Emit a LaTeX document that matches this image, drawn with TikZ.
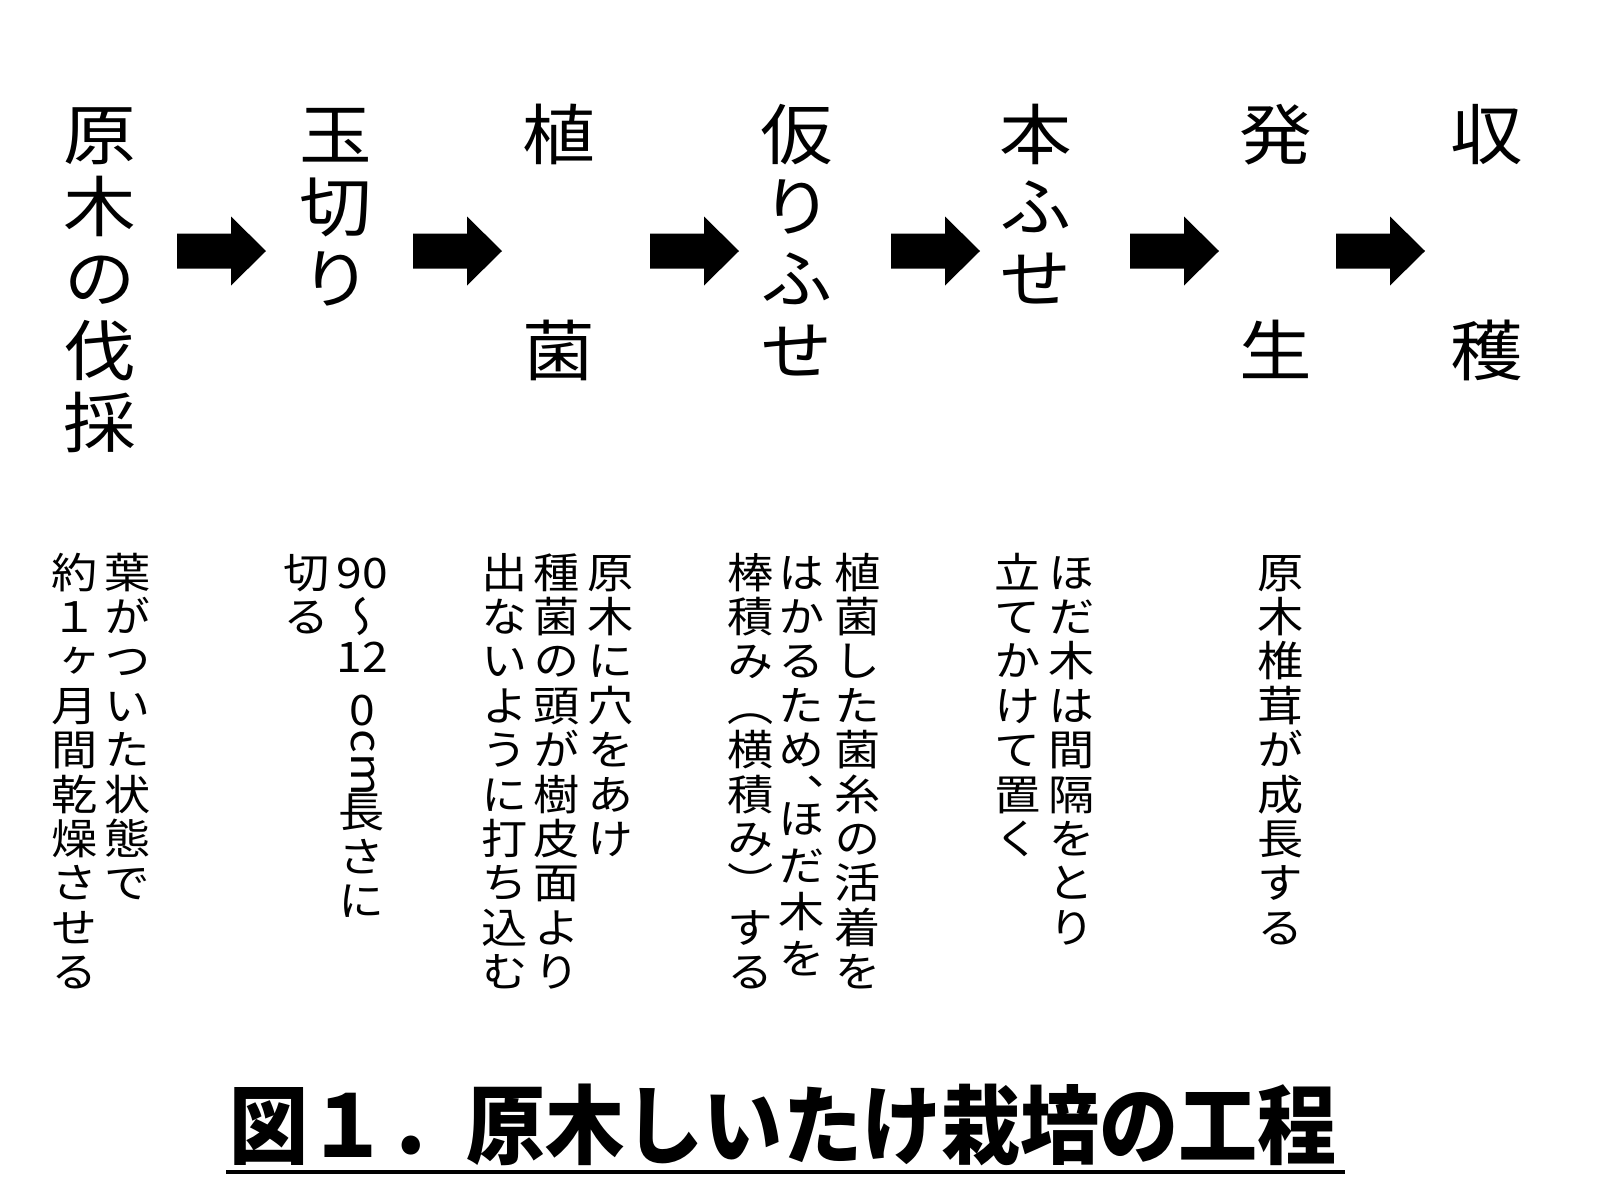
\documentclass[tikz,border=0pt]{standalone}
\usepackage{fontspec}
\newfontfamily\jp[FakeStretch=1.1,RawFeature=+vert]{Noto Sans CJK JP}
\newfontfamily\jptitle[FakeStretch=0.92,BoldFont={Noto Sans CJK JP Black}]{Noto Sans CJK JP}
\newcommand\vcolumn[6]{% name, x, y0, pitch, style, list
  \foreach \vchar [count=\i] in {#6} {\node[#5] (#1-\i) at (#2,{#3+(\i-1)*#4}) {\vchar};}}
\newcommand\vplace[6]{% name, x, y0, pitch, style, list of row/char
  \foreach \vrow/\vchar [count=\i] in {#6} {\node[#5] (#1-\i) at (#2,{#3+\vrow*#4}) {\vchar};}}
\tikzset{
  ttl/.style={font=\jp\fontsize{66}{66}\selectfont, inner sep=0pt, text height=58pt, text depth=8pt},
  dsc/.style={font=\jp\fontsize{42}{42}\selectfont, inner sep=0pt, text height=37pt, text depth=5pt},
  dscpt/.style={font=\jp\fontsize{42}{42}\selectfont, inner sep=0pt, text height=0pt, text depth=0pt},
  dscrot/.style={font=\jp\fontsize{42}{42}\selectfont, inner sep=0pt, text height=22pt, text depth=0pt, rotate=-90},
  bigtitle/.style={font=\jptitle\bfseries\fontsize{86}{86}\selectfont, inner sep=0pt, text height=75.7pt, text depth=10.3pt},
  blockarrow/.pic={\fill[black] (0,-17.5) -- (54,-17.5) -- (54,-34.5) -- (89,0) -- (54,34.5) -- (54,17.5) -- (0,17.5) -- cycle;}
}
\begin{document}
\begin{tikzpicture}[x=1pt,y=-1pt]
\useasboundingbox (0,0) rectangle (1600,1200);
\fill[white] (0,0) rectangle (1600,1200);
% ---- step titles (vertical) ----
\vcolumn{t1}{100}{134}{72}{ttl}{原,木,の,伐,採}
\vcolumn{t2}{336}{134}{72}{ttl}{玉,切,り}
\vplace{t3}{559}{134}{72}{ttl}{0/植,3/菌}
\vcolumn{t4}{797}{134}{72}{ttl}{仮,り,ふ,せ}
\vcolumn{t5}{1036}{134}{72}{ttl}{本,ふ,せ}
\vplace{t6}{1276}{134}{72}{ttl}{0/発,3/生}
\vplace{t7}{1487}{134}{72}{ttl}{0/収,3/穫}
% ---- block arrows ----
\pic (a1) at (177,251) {blockarrow};
\pic (a2) at (413,251) {blockarrow};
\pic (a3) at (650,251) {blockarrow};
\pic (a4) at (891,251) {blockarrow};
\pic (a5) at (1130,251) {blockarrow};
\pic (a6) at (1336,251) {blockarrow};
% ---- descriptions (vertical, right to left) ----
\vcolumn{d1a}{128}{572}{44.4}{dsc}{葉,が,つ,い,た,状,態,で}
\vcolumn{d1b}{75}{572}{44.4}{dsc}{約,１,ヶ,月,間,乾,燥,さ,せ,る}
\vplace{d2a}{362}{572}{44.4}{dsc}{0/90,1/〜,1.9/12,3.1/0,5.4/長,6.4/さ,7.4/に}
\node[dscrot] (d2a-cm) at (362,763) {cm};
\vcolumn{d2b}{307}{572}{44.4}{dsc}{切,る}
\vcolumn{d3a}{611}{572}{44.4}{dsc}{原,木,に,穴,を,あ,け}
\vcolumn{d3b}{557}{572}{44.4}{dsc}{種,菌,の,頭,が,樹,皮,面,よ,り}
\vcolumn{d3c}{505}{572}{44.4}{dsc}{出,な,い,よ,う,に,打,ち,込,む}
\vcolumn{d4a}{858}{572}{44.4}{dsc}{植,菌,し,た,菌,糸,の,活,着,を}
\vplace{d4b}{802}{572}{44.4}{dsc}{0/は,1/か,2/る,3/た,4/め,5.55/ほ,6.6/だ,7.65/木,8.7/を}
\node[dscpt] (d4b-comma) at (802,810) {\makebox[0pt]{\smash{、}}};
\vcolumn{d4c}{751}{572}{44.4}{dsc}{棒,積,み,（,横,積,み,）,す,る}
\vcolumn{d5a}{1072}{572}{44.4}{dsc}{ほ,だ,木,は,間,隔,を,と,り}
\vcolumn{d5b}{1018}{572}{44.4}{dsc}{立,て,か,け,て,置,く}
\vcolumn{d6}{1281}{572}{44.4}{dsc}{原,木,椎,茸,が,成,長,す,る}
% ---- figure caption ----
\node[bigtitle] (title) at (783,1125) {図１．原木しいたけ栽培の工程};
\coordinate (ulL) at (226,1172);
\coordinate (ulR) at (1345,1172);
\draw[line width=4.5pt] (ulL) -- (ulR);
\end{tikzpicture}
\end{document}
